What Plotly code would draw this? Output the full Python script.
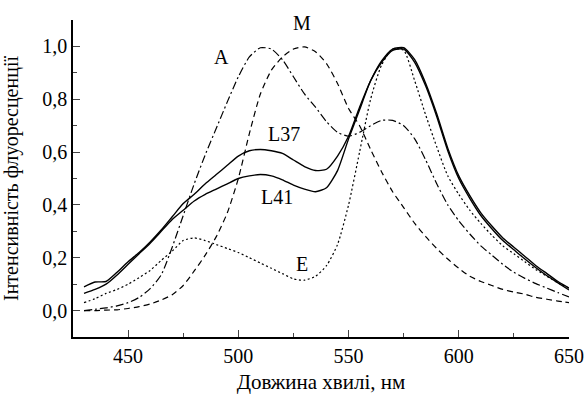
import plotly.graph_objects as go

wavelength = [430, 435, 440, 445, 450, 455, 460, 465, 470, 475, 480, 485, 490, 495, 500,
              505, 510, 515, 520, 525, 530, 535, 540, 545, 550, 555, 560, 565, 570, 575,
              580, 585, 590, 595, 600, 605, 610, 615, 620, 625, 630, 635, 640, 645, 650]

curve_A = [0.00, 0.005, 0.01, 0.018, 0.03, 0.05, 0.083, 0.135, 0.24, 0.36, 0.48, 0.59, 0.69, 0.79, 0.885,
           0.96, 0.995, 0.99, 0.95, 0.885, 0.82, 0.77, 0.715, 0.675, 0.66, 0.675, 0.70, 0.72, 0.72, 0.70,
           0.65, 0.57, 0.48, 0.40, 0.34, 0.29, 0.245, 0.21, 0.175, 0.145, 0.122, 0.102, 0.085, 0.068, 0.052]

curve_M = [0.00, 0.00, 0.002, 0.003, 0.008, 0.015, 0.025, 0.04, 0.06, 0.095, 0.15, 0.21, 0.28, 0.37, 0.50,
           0.67, 0.82, 0.91, 0.96, 0.99, 0.998, 0.98, 0.935, 0.86, 0.765, 0.70, 0.61, 0.525, 0.45, 0.39,
           0.33, 0.28, 0.235, 0.195, 0.16, 0.13, 0.11, 0.095, 0.08, 0.07, 0.062, 0.05, 0.043, 0.036, 0.03]

curve_E = [0.03, 0.045, 0.065, 0.08, 0.10, 0.125, 0.152, 0.19, 0.225, 0.265, 0.275, 0.265, 0.25, 0.235, 0.22,
           0.20, 0.18, 0.16, 0.14, 0.12, 0.115, 0.13, 0.17, 0.25, 0.40, 0.60, 0.80, 0.93, 0.99, 0.985,
           0.87, 0.74, 0.62, 0.51, 0.44, 0.38, 0.33, 0.285, 0.245, 0.215, 0.185, 0.155, 0.13, 0.105, 0.085]

curve_L37 = [0.09, 0.108, 0.11, 0.145, 0.185, 0.22, 0.26, 0.305, 0.355, 0.405, 0.44, 0.48, 0.515, 0.55, 0.585,
             0.605, 0.61, 0.605, 0.595, 0.57, 0.545, 0.53, 0.535, 0.585, 0.66, 0.77, 0.87, 0.945, 0.99, 0.995,
             0.95, 0.86, 0.745, 0.615, 0.51, 0.435, 0.37, 0.32, 0.275, 0.24, 0.205, 0.17, 0.14, 0.11, 0.085]

curve_L41 = [0.065, 0.08, 0.10, 0.135, 0.175, 0.215, 0.255, 0.30, 0.345, 0.38, 0.415, 0.44, 0.46, 0.48, 0.50,
             0.51, 0.515, 0.51, 0.495, 0.475, 0.46, 0.45, 0.465, 0.53, 0.65, 0.76, 0.87, 0.94, 0.985, 0.99,
             0.94, 0.85, 0.735, 0.605, 0.50, 0.425, 0.36, 0.31, 0.265, 0.23, 0.195, 0.162, 0.132, 0.105, 0.078]

label_text = ["A", "M", "L37", "L41", "E"]
label_x = [492.5, 529, 520.5, 517.5, 529]
label_y = [0.96, 1.09, 0.67, 0.43, 0.175]

FONT = "Liberation Serif"
FS = 20

fig = go.Figure()
series = [
    (curve_A, "8px,3px,2px,3px", 1.2),
    (curve_M, "6px,4px", 1.2),
    (curve_E, "2px,2.5px", 1.2),
    (curve_L37, "solid", 1.4),
    (curve_L41, "solid", 1.4),
]
for ys, dash, w in series:
    fig.add_trace(go.Scatter(x=wavelength, y=ys, mode="lines",
                             line=dict(color="black", width=w, dash=dash, shape="spline", smoothing=0.6),
                             showlegend=False, hoverinfo="skip"))

for t, x, y in zip(label_text, label_x, label_y):
    fig.add_annotation(x=x, y=y, text=t, showarrow=False, xref="x", yref="y",
                       font=dict(family=FONT, size=FS, color="black"))

fig.update_layout(
    width=586, height=394,
    margin=dict(l=73, r=17, t=20, b=57),
    paper_bgcolor="white", plot_bgcolor="white",
    separators=", ",
    font=dict(family=FONT, size=FS, color="black"),
)
fig.update_xaxes(range=[425, 650], tick0=450, dtick=50, ticks="inside", ticklen=7, tickwidth=1.2,
                 showline=True, linewidth=1.5, linecolor="black", showgrid=False, zeroline=False,
                 automargin=False,
                 minor=dict(ticks="inside", ticklen=4, tickwidth=1.2, dtick=25, tick0=425, showgrid=False),
                 tickfont=dict(family=FONT, size=FS),
                 title=dict(text="Довжина хвилі, нм", font=dict(family=FONT, size=21), standoff=14))
fig.update_yaxes(range=[-0.1, 1.1], tick0=0, dtick=0.2, tickformat=".1f", ticks="inside", ticklen=7,
                 tickwidth=1.2, showline=True, linewidth=1.5, linecolor="black", showgrid=False,
                 zeroline=False, automargin=False,
                 minor=dict(ticks="inside", ticklen=4, tickwidth=1.2, dtick=0.1, tick0=0, showgrid=False),
                 tickfont=dict(family=FONT, size=FS),
                 title=dict(text="Інтенсивність флуоресценції", font=dict(family=FONT, size=FS), standoff=18))

fig.write_html("out.html", config={"displayModeBar": False},
               post_script="document.body.style.margin='0px';")
